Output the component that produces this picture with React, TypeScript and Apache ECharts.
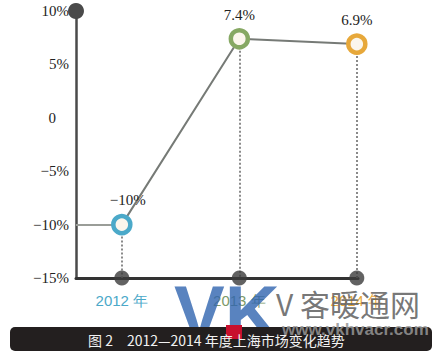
import React, { useEffect, useRef } from "react";
import * as echarts from "echarts";

const categories = ["2012 年", "2013 年", "2014 年"];
const values = [-10, 7.4, 6.9];
const pointColors = ["#4ba9c9", "#86a863", "#e7a83a"];
const labelColors = ["#4ba9c9", "#7c9a6a", "#e7a83a"];
const caption = "图 2　2012—2014 年度上海市场变化趋势";

const Y_MIN = -15;
const Y_MAX = 10;
const X_MIN = -0.39;
const X_MAX = 2.01;

const fmtPct = (v: number) => (v === 0 ? "0" : (v < 0 ? "\u2212" + Math.abs(v) : String(v)) + "%");

export default function App() {
  const ref = useRef<HTMLDivElement>(null);
  useEffect(() => {
    if (!ref.current) return;
    const chart = echarts.init(ref.current, undefined, { renderer: "svg" });
    const serif = "'Liberation Serif', 'DejaVu Serif', serif";
    chart.setOption({
      animation: false,
      backgroundColor: "#ffffff",
      grid: { left: 76, right: 85, top: 11, bottom: 79, containLabel: false },
      xAxis: {
        type: "value",
        min: X_MIN,
        max: X_MAX,
        splitLine: { show: false },
        axisTick: { show: false },
        axisLine: { onZero: false, lineStyle: { color: "#333333", width: 3 } },
        axisLabel: {
          customValues: categories.map((_, i) => i),
          margin: 15,
          formatter: (v: number) => {
            const i = Math.round(v);
            return `{c${i}|${categories[i]}}`;
          },
          rich: Object.fromEntries(
            categories.map((_, i) => [
              "c" + i,
              { color: labelColors[i], fontSize: 15, fontFamily: "'Liberation Sans', Arial, sans-serif" },
            ])
          ),
        },
      },
      yAxis: {
        type: "value",
        min: Y_MIN,
        max: Y_MAX,
        interval: 5,
        splitLine: { show: false },
        axisTick: { show: false },
        axisLine: {
          show: true,
          onZero: false,
          symbol: ["none", "circle"],
          symbolSize: [16, 16],
          symbolOffset: [0, 0],
          lineStyle: { color: "#4a4a4a", width: 2.5 },
        },
        axisLabel: {
          margin: 7,
          color: "#222",
          fontSize: 15,
          fontFamily: serif,
          formatter: (v: number) => (v === 0 ? "{z|0}" : fmtPct(v)),
          rich: { z: { padding: [0, 13, 0, 0], fontSize: 15, fontFamily: serif, color: "#222" } },
        },
      },
      series: [
        {
          type: "lines",
          coordinateSystem: "cartesian2d",
          z: 1,
          silent: true,
          lineStyle: { color: "#8a8a8a", width: 2, type: [2, 2], opacity: 1 },
          data: [
            ...values.map((v, i) => ({ coords: [[i, v], [i, Y_MIN]] })),
            {
              coords: [[X_MIN, values[0]], [0, values[0]]],
              lineStyle: { type: "solid", color: "#9a9d98", width: 2 },
            },
          ],
        },
        {
          type: "line",
          z: 3,
          data: values.map((v, i) => ({
            value: [i, v],
            itemStyle: { color: "#fbf6ec", borderColor: pointColors[i], borderWidth: 4.5 },
            label: i === 0 ? { offset: [6, 0] } : undefined,
          })),
          symbol: "circle",
          symbolSize: 17,
          lineStyle: { color: "#767a76", width: 2 },
          label: {
            show: true,
            position: "top",
            distance: 6,
            color: "#222",
            fontSize: 15,
            fontFamily: serif,
            formatter: (p: any) => fmtPct(p.value[1]),
          },
        },
        {
          type: "scatter",
          z: 4,
          symbolSize: 15,
          itemStyle: { color: "#3b3b3b" },
          data: categories.map((_, i) => [i, Y_MIN]),
        },
      ],
      graphic: [
        {
          type: "text",
          z: 9,
          x: 174,
          y: 274,
          style: {
            text: "VK",
            fill: "rgba(48,100,175,0.8)",
            font: "bold 76px 'Liberation Sans', Arial, sans-serif",
          },
        },
        {
          type: "rect",
          z: 10,
          shape: { x: 10, y: 327, width: 422, height: 24, r: 5 },
          style: { fill: "#231f1f" },
        },
        {
          type: "rect",
          z: 11,
          shape: { x: 226, y: 325, width: 16, height: 14 },
          style: { fill: "#c8102e" },
        },
        {
          type: "text",
          z: 12,
          x: 276,
          y: 288,
          style: {
            text: "V 客暖通网",
            fill: "rgba(95,95,95,0.85)",
            font: "30px 'Noto Sans CJK SC', serif",
          },
        },
        {
          type: "text",
          z: 12,
          x: 282,
          y: 321,
          style: {
            text: "www.vkhvacr.com",
            fill: "rgba(150,150,150,0.85)",
            font: "bold 17px 'Liberation Sans', Arial, sans-serif",
          },
        },
        {
          type: "text",
          z: 13,
          x: 88,
          y: 340,
          style: {
            text: caption,
            fill: "#f2f2f2",
            font: "14px 'Noto Sans CJK SC', sans-serif",
            verticalAlign: "middle",
          },
        },
      ],
    });
    return () => chart.dispose();
  }, []);
  return <div ref={ref} style={{ position: "fixed", left: 0, top: 0, width: 443, height: 357 }} />;
}
